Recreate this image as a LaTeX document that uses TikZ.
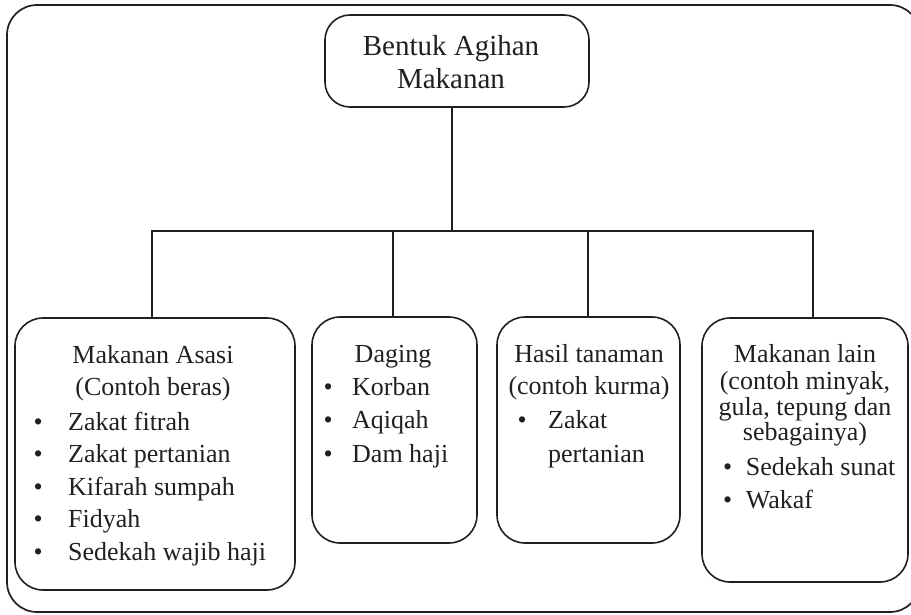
\documentclass[tikz,border=0pt]{standalone}
\usepackage{fontspec}
\setmainfont{Liberation Serif}
\definecolor{ink}{RGB}{35,31,32}
\newcommand\myitem[2]{\makebox[#1][l]{\textbullet}#2}
\begin{document}
\begin{tikzpicture}[x=1pt,y=-1pt,
  frame/.style={draw=ink,line width=1.7pt,rounded corners=30pt},
  box/.style={draw=ink,line width=1.6pt,rounded corners=28pt,inner sep=0pt},
  conn/.style={draw=ink,line width=1.6pt},
  txt/.style={text=ink,inner sep=0pt,font=\fontsize{26}{30}\selectfont},
  big/.style={text=ink,inner sep=0pt,font=\fontsize{29}{33}\selectfont}]
\useasboundingbox (0,0) rectangle (911,614);
\draw[frame] (7,5) rectangle (920,612);
% boxes
\node[box,rounded corners=25pt,minimum width=264pt,minimum height=92pt] (top) at (457,61) {};
\node[box,minimum width=280pt,minimum height=272pt] (b1) at (155,454) {};
\node[box,minimum width=165pt,minimum height=226pt] (b2) at (394.5,430) {};
\node[box,minimum width=183pt,minimum height=226pt] (b3) at (588.5,430) {};
\node[box,minimum width=206pt,minimum height=264pt] (b4) at (805,450) {};
% connectors
\coordinate (j) at (452,231);
\draw[conn] ([xshift=-5pt]top.south) -- (j);
\draw[conn] ([xshift=-3pt]b1.north) -- ([xshift=-3pt]b1.north |- j) -- ([xshift=8pt]b4.north |- j) -- ([xshift=8pt]b4.north);
\draw[conn] ([xshift=-1.5pt]b2.north) -- ([xshift=-1.5pt]b2.north |- j);
\draw[conn] ([xshift=-0.5pt]b3.north) -- ([xshift=-0.5pt]b3.north |- j);
% top text
\node[big,anchor=base] (t1) at (451,55) {Bentuk Agihan};
\node[big,anchor=base] (t2) at (451,88) {Makanan};
% box 1
\node[txt,anchor=base] (a1) at (153,363) {Makanan Asasi};
\node[txt,anchor=base] (a2) at (153,395) {(Contoh beras)};
\node[txt,anchor=base west] (a3) at (33.5,430) {\myitem{34.5pt}{Zakat fitrah}};
\node[txt,anchor=base west] (a4) at (33.5,462.5) {\myitem{34.5pt}{Zakat pertanian}};
\node[txt,anchor=base west] (a5) at (33.5,495) {\myitem{34.5pt}{Kifarah sumpah}};
\node[txt,anchor=base west] (a6) at (33.5,527.5) {\myitem{34.5pt}{Fidyah}};
\node[txt,anchor=base west] (a7) at (33.5,560) {\myitem{34.5pt}{Sedekah wajib haji}};
% box 2
\node[txt,anchor=base] (d1) at (393,362) {Daging};
\node[txt,anchor=base west] (d2) at (323.5,395) {\myitem{28.5pt}{Korban}};
\node[txt,anchor=base west] (d3) at (323.5,428) {\myitem{28.5pt}{Aqiqah}};
\node[txt,anchor=base west] (d4) at (323.5,462) {\myitem{28.5pt}{Dam haji}};
% box 3
\node[txt,anchor=base] (h1) at (589,362) {Hasil tanaman};
\node[txt,anchor=base] (h2) at (589,394) {(contoh kurma)};
\node[txt,anchor=base west] (h3) at (517.5,428) {\myitem{30.5pt}{Zakat}};
\node[txt,anchor=base west] (h4) at (548,462) {pertanian};
% box 4
\node[txt,anchor=base] (m1) at (805,362) {Makanan lain};
\node[txt,anchor=base] (m2) at (805,389) {(contoh minyak,};
\node[txt,anchor=base] (m3) at (805,415) {gula, tepung dan};
\node[txt,anchor=base] (m4) at (805,440) {sebagainya)};
\node[txt,anchor=base west] (m5) at (723,475) {\myitem{22.7pt}{Sedekah sunat}};
\node[txt,anchor=base west] (m6) at (723,508) {\myitem{22.7pt}{Wakaf}};
\end{tikzpicture}
\end{document}
